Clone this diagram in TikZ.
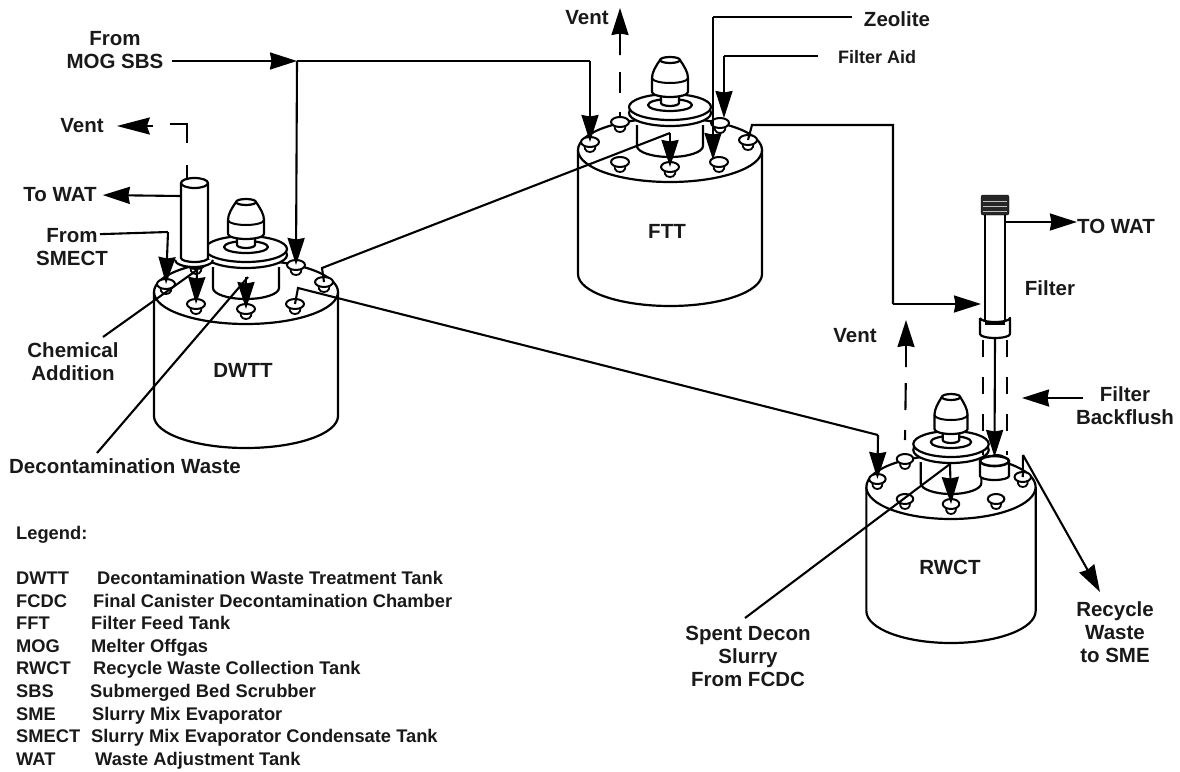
\documentclass[tikz,border=0pt]{standalone}
\usepackage{fontspec}
\setmainfont{Liberation Sans}
\usetikzlibrary{arrows.meta,positioning}

\tikzset{
    tankline/.style={line width=2.2pt, line join=round, fill=white},
    tank/.pic={
        \draw[tankline] (-92,0) -- (-92,124) arc (180:0:92 and 32) -- (92,0);
        \draw[tankline] (0,0) ellipse (92 and 32);
        \foreach \nx/\ny [count=\i] in {-80/-8,-50/-28,50/-27,78/-10,-50/12,0/17,49/12} {
            \coordinate (-n\i) at (\nx,\ny);
            \draw[tankline, line width=1.8pt] (\nx-6,\ny) -- (\nx-5,\ny+7) .. controls (\nx-4,\ny+11) and (\nx+4,\ny+11) .. (\nx+5,\ny+7) -- (\nx+6,\ny);
            \draw[tankline, line width=2pt] (\nx,\ny) ellipse (9 and 5);
        }
        \draw[tankline] (-33,-25) -- (-33,-4) arc (180:0:33 and 11) -- (33,-25);
        \draw[tankline] (0,-37) ellipse (41 and 13);
        \draw[tankline] (0,-43) ellipse (41 and 13);
        \draw[tankline] (0,-45) ellipse (22 and 6);
        \draw[tankline] (-9,-56) -- (-9,-47) arc (180:0:9 and 3) -- (9,-56);
        \draw[tankline] (-10,-90) .. controls (-14,-84) and (-18,-78) .. (-18,-72) -- (-18,-58) arc (180:0:18 and 5) -- (18,-72) .. controls (18,-78) and (14,-84) .. (10,-90) -- cycle;
        \draw[line width=2pt] (-18,-72) arc (180:0:18 and 5);
        \draw[tankline] (0,-90) ellipse (10 and 3);
    }
}

\begin{document}
\begin{tikzpicture}[
    x=1pt, y=-1pt,
    font=\bfseries,
    flow/.style={-{Stealth[length=27pt,width=17pt,inset=1.5pt]}, line width=2.1pt},
    backflow/.style={{Stealth[length=33pt,width=17pt,inset=3pt]}-, line width=2.1pt},
    plain/.style={line width=2.1pt},
    ventdash/.style={line width=2.1pt},
    lbl/.style={align=center, inner sep=0pt, text=black!90, font=\fontsize{20.5}{23}\selectfont\bfseries},
    legendtext/.style={anchor=west, inner sep=0pt, text height=12pt, text depth=3pt, text=black!90, font=\fontsize{18.3}{23}\selectfont\bfseries}
]
    \useasboundingbox (0,0) rectangle (1180,771);

    % tanks
    \pic (dwtt) at (246,292) {tank};
    \pic (ftt) at (670,150) {tank};
    \pic[xscale=0.92] (rwct) at (951,487) {tank};
    \node[lbl] (dwttname) at (243,370) {DWTT};
    \node[lbl] (fttname) at (667,231) {FTT};
    \node[lbl] (rwctname) at (950,567) {RWCT};

    % side stack on DWTT
    \draw[tankline] (175,260) arc (180:0:19 and 7);
    \draw[tankline] (181,183) -- (181,258) arc (180:0:13.5 and 4) -- (208,183);
    \draw[tankline] (194.5,183) ellipse (13.5 and 5);
    \coordinate (stacktop) at (187,178);
    \coordinate (stackside) at (181,196);

    % filter on RWCT
    \draw[tankline] (985,212) rectangle (1005,322);
    \draw[fill=black!85, rounded corners=2pt] (981,195) rectangle (1009,215);
    \draw[white!75!black, line width=1pt] (983,201) -- (1007,201) (983,206) -- (1007,206) (983,211) -- (1007,211);
    \draw[tankline] (980,318) -- (980,334) arc (180:0:15 and 4) -- (1010,318) arc (0:180:15 and 4);
    \draw[line width=3pt] (985,323) -- (1005,323);
    \draw[tankline] (980,461) -- (980,476) arc (180:0:14.5 and 4) -- (1009,461);
    \draw[tankline, line width=2.6pt] (994.5,461) ellipse (14.5 and 5);
    \draw[ventdash, dash pattern=on 17pt off 20pt] (983,340) -- (983,455);
    \draw[ventdash, dash pattern=on 17pt off 20pt] (1007,340) -- (1007,455);
    \coordinate (filterbase) at (995,338);
    \coordinate (filterport) at (994.5,457);
    \coordinate (filterside) at (1005,222);
    \coordinate (filterin) at (981,304);
    \coordinate (filterflush) at (1022,398);

    % labels
    \node[lbl] (mogsbs) at (115,50) {From\\MOG SBS};
    \node[lbl] (ventdwtt) at (82,126) {Vent};
    \node[lbl] (watdwtt) at (60,195) {To WAT};
    \node[lbl] (smect) at (72,247) {From\\SMECT};
    \node[lbl] (chem) at (73,362) {Chemical\\Addition};
    \node[lbl] (decon) at (125,466) {Decontamination Waste};
    \node[lbl] (ventftt) at (587,18) {Vent};
    \node[lbl] (zeolite) at (897,19) {Zeolite};
    \node[lbl, font=\fontsize{18}{23}\selectfont\bfseries] (filteraid) at (877,57) {Filter Aid};
    \node[lbl] (towat) at (1116,226) {TO WAT};
    \node[lbl] (filtername) at (1050,288) {Filter};
    \node[lbl] (ventrwct) at (855,336) {Vent};
    \node[lbl] (backflush) at (1125,406) {Filter\\Backflush};
    \node[lbl] (recycle) at (1115,632) {Recycle\\Waste\\to SME};
    \node[lbl] (spent) at (748,656) {Spent Decon\\Slurry\\From FCDC};

    % bends and free ends
    \coordinate (mogjoin) at (297,61);
    \coordinate (mogbend) at (590,61);
    \coordinate (zeolitebend) at (713,17);
    \coordinate (aidbend) at (724,56);
    \coordinate (fttoutup) at (752,125);
    \coordinate (fttoutright) at (893,125);
    \coordinate (fttoutdown) at (893,304);
    \coordinate (chemtop) at (197,270);
    \coordinate (chemstart) at (103,337);
    \coordinate (decontop) at (248,277);
    \coordinate (deconstart) at (97,453);
    \coordinate (smectbend) at (168,232);
    \coordinate (feedlow) at (322,268);
    \coordinate (feedtop) at (670,133);
    \coordinate (transtart) at (298,288);
    \coordinate (transbend) at (878,435);
    \coordinate (spenttop) at (950,464);
    \coordinate (spentstart) at (745,618);
    \coordinate (recyclestart) at (1023,455);
    \coordinate (recycleend) at (1100,592);
    \coordinate (ventdwtta) at (170,124);
    \coordinate (ventdwttb) at (187,124);
    \coordinate (ventdwttc) at (187,143);
    \coordinate (ventdwttd) at (187,165);
    \coordinate (ventdwtte) at (153,126);
    \coordinate (ventftttip) at (620,8);
    \coordinate (ventrwcttip) at (906,320);

    % connectors
    \draw[flow] (mogsbs.east |- mogjoin) ++(8,0) -- (mogjoin);
    \draw[plain] (mogjoin) -- (mogbend);
    \draw[flow] (mogbend) -- (ftt-n1);
    \draw[flow] (mogjoin) -- (dwtt-n3);
    \draw[flow, shorten >=6pt] (stackside) -- (watdwtt.east);
    \draw[plain] (ventdwtta) -- (ventdwttb) -- (ventdwttc);
    \draw[plain] (ventdwttd) -- (stacktop);
    \draw[backflow] (ventdwtt.east) ++(13,0) -- (ventdwtte);
    \draw[plain] (smect.north) ++(28,6) -- (smectbend);
    \draw[flow] (smectbend) -- (dwtt-n1);
    \draw[plain] (chemstart) -- (chemtop);
    \draw[flow] (chemtop) -- (dwtt-n5);
    \draw[plain] (deconstart) -- (decontop);
    \draw[flow] (246,277) -- (dwtt-n6);
    \draw[plain] (dwtt-n4) -- (feedlow) -- (feedtop);
    \draw[flow] (feedtop) -- (ftt-n6);
    \draw[plain] (dwtt-n7) -- (transtart) -- (transbend);
    \draw[flow] (transbend) -- (rwct-n1);

    \draw[ventdash, dash pattern=on 6pt off 19pt on 21pt off 17pt] (ftt-n2) ++(0,-4) -- (620,55);
    \draw[flow] (620,55) -- (ventftttip);
    \draw[plain] (zeolite.west) ++(-12,-2) -- (zeolitebend);
    \draw[flow] (zeolitebend) -- (713,160);
    \draw[plain] (filteraid.west) ++(-20,-1) -- (aidbend);
    \draw[flow] (aidbend) -- (724,118);
    \draw[plain] (ftt-n4) -- (fttoutup) -- (fttoutright) -- (fttoutdown);
    \draw[flow] (fttoutdown) -- (filterin);

    \draw[flow] (filterside) -- (towat.west |- filterside);
    \draw[flow] (filterbase) -- (filterport);
    \draw[flow] (backflush.west |- filterflush) ++(7,0) -- (filterflush);
    \draw[ventdash, dash pattern=on 10pt off 20pt on 27pt off 16pt] (rwct-n2) ++(0,-19) -- (906,367);
    \draw[flow] (906,367) -- (ventrwcttip);
    \draw[plain] (spentstart) -- (spenttop);
    \draw[flow] (spenttop) -- (rwct-n6);
    \draw[plain] (rwct-n4) -- (recyclestart);
    \draw[flow] (recyclestart) -- (recycleend);

    % legend
    \node[legendtext] (legendhead) at (16,535) {Legend:};
    \foreach \abbr/\desc/\descx/\rowy in {
        DWTT/Decontamination Waste Treatment Tank/97/580,
        FCDC/Final Canister Decontamination Chamber/93/603,
        FFT/Filter Feed Tank/91/625,
        MOG/Melter Offgas/91/648,
        RWCT/Recycle Waste Collection Tank/93/670,
        SBS/Submerged Bed Scrubber/90/693,
        SME/Slurry Mix Evaporator/92/716,
        SMECT/Slurry Mix Evaporator Condensate Tank/91/738,
        WAT/Waste Adjustment Tank/95/761} {
        \node[legendtext] (abbr\abbr) at (16,\rowy) {\abbr};
        \node[legendtext] (desc\abbr) at (\descx,\rowy) {\desc};
    }
\end{tikzpicture}
\end{document}
